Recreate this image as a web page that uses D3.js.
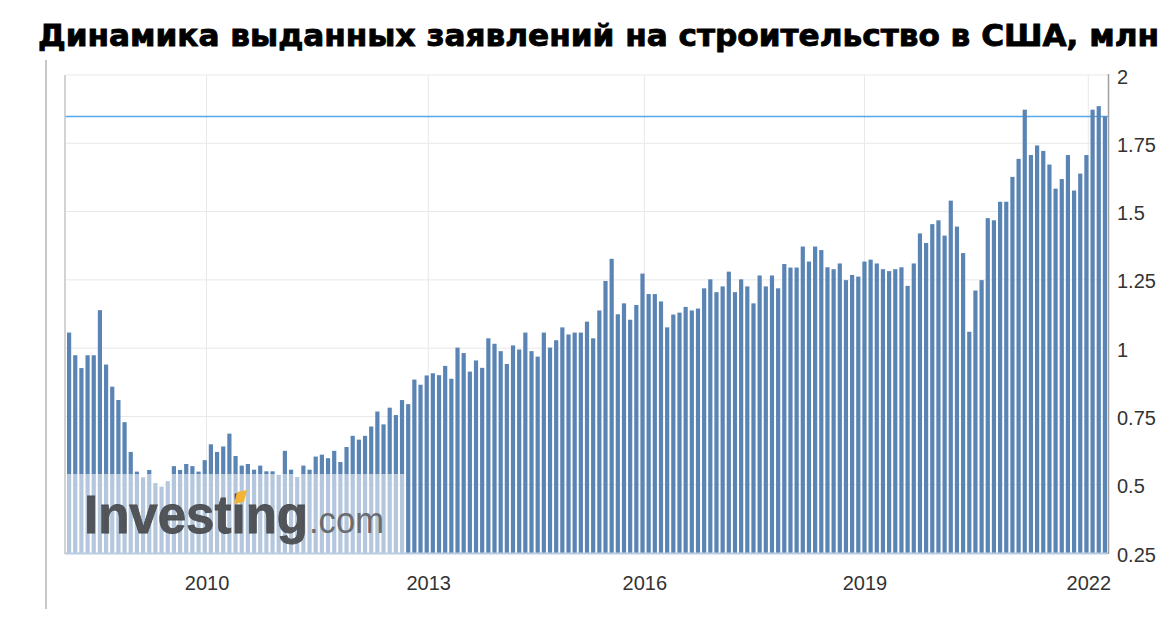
<!DOCTYPE html>
<html>
<head>
<meta charset="utf-8">
<script src="https://cdn.jsdelivr.net/npm/d3@7/dist/d3.min.js"></script>
<style>
  html, body { margin: 0; padding: 0; background: #ffffff; }
  svg { display: block; }
</style>
</head>
<body>
<svg id="chart" width="1176" height="618"></svg>
<script>
// ---- Data ----
const titleText = "Динамика выданных заявлений на строительство в США, млн";

// Monthly building permits, millions (bars left to right)
const permits = [
  1.057, 0.974, 0.927, 0.974, 0.974, 1.139, 0.940, 0.859, 0.810, 0.729,
  0.620, 0.548, 0.527, 0.554, 0.506, 0.493, 0.513, 0.568, 0.554, 0.576,
  0.568, 0.548, 0.590, 0.648, 0.620, 0.640, 0.687, 0.605, 0.570, 0.576,
  0.555, 0.570, 0.549, 0.549, 0.536, 0.624, 0.555, 0.528, 0.570, 0.555,
  0.603, 0.610, 0.597, 0.624, 0.583, 0.638, 0.679, 0.665, 0.679, 0.713,
  0.768, 0.721, 0.782, 0.755, 0.810, 0.795, 0.885, 0.866, 0.900, 0.908,
  0.901, 0.935, 0.888, 1.002, 0.982, 0.914, 0.955, 0.928, 1.036, 1.016,
  0.989, 0.942, 1.010, 0.995, 1.057, 0.989, 0.969, 1.057, 1.002, 1.029,
  1.076, 1.050, 1.057, 1.057, 1.097, 1.036, 1.138, 1.246, 1.327, 1.124,
  1.164, 1.104, 1.158, 1.273, 1.198, 1.198, 1.171, 1.076, 1.123, 1.130,
  1.151, 1.138, 1.145, 1.219, 1.252, 1.205, 1.226, 1.280, 1.205, 1.252,
  1.226, 1.164, 1.266, 1.226, 1.266, 1.219, 1.308, 1.295, 1.295, 1.372,
  1.317, 1.372, 1.359, 1.296, 1.289, 1.310, 1.249, 1.268, 1.262, 1.317,
  1.324, 1.310, 1.289, 1.282, 1.289, 1.296, 1.228, 1.310, 1.420, 1.385,
  1.454, 1.468, 1.412, 1.540, 1.445, 1.348, 1.060, 1.211, 1.249, 1.476,
  1.468, 1.536, 1.536, 1.627, 1.693, 1.873, 1.707, 1.742, 1.722, 1.672,
  1.584, 1.619, 1.707, 1.577, 1.639, 1.707, 1.873, 1.886, 1.848
];
const barIndex = permits.map((_, i) => i);

// Year ticks, positioned in bar-index units (where the year boundary falls among the bars)
const yearTickPos = [22.3, 58.25, 93.3, 129.0, 165.3];
const yearLabels = ["2010", "2013", "2016", "2019", "2022"];

const yTicks = [0.25, 0.5, 0.75, 1, 1.25, 1.5, 1.75, 2];
const yTickLabels = ["0.25", "0.5", "0.75", "1", "1.25", "1.5", "1.75", "2"];

// ---- Layout ----
const svg = d3.select("#chart");
const plot = { left: 66, right: 1108, top: 75, bottom: 553 };

const x = d3.scaleLinear()
  .domain([-0.5, permits.length - 0.5])
  .range([plot.left, plot.right]);
const step = x(1) - x(0);
const barW = step * 0.68;

const y = d3.scaleLinear()
  .domain([0.25, 2])
  .range([plot.bottom, plot.top]);

// Title
svg.append("text")
  .attr("x", 38).attr("y", 46)
  .attr("font-family", "DejaVu Sans, sans-serif")
  .attr("font-weight", "bold")
  .attr("font-size", 31)
  .attr("textLength", 1121)
  .attr("lengthAdjust", "spacingAndGlyphs")
  .attr("fill", "#000")
  .attr("stroke", "#000").attr("stroke-width", 0.9)
  .text(titleText);

// Outer left frame line
svg.append("line")
  .attr("x1", 46).attr("x2", 46).attr("y1", 60).attr("y2", 609)
  .attr("stroke", "#b5b5b5").attr("stroke-width", 1.5);

// Horizontal gridlines
svg.append("g").selectAll("line").data(yTicks).join("line")
  .attr("x1", plot.left).attr("x2", plot.right)
  .attr("y1", d => y(d)).attr("y2", d => y(d))
  .attr("stroke", "#e8e8e8").attr("stroke-width", 1);

// Vertical gridlines
svg.append("g").selectAll("line").data(yearTickPos).join("line")
  .attr("x1", d => x(d)).attr("x2", d => x(d))
  .attr("y1", plot.top).attr("y2", plot.bottom)
  .attr("stroke", "#e8e8e8").attr("stroke-width", 1);

// Latest value line
const lastVal = permits[permits.length - 1];
svg.append("line")
  .attr("x1", plot.left - 1).attr("x2", plot.right)
  .attr("y1", y(lastVal)).attr("y2", y(lastVal))
  .attr("stroke", "#55a8ea").attr("stroke-width", 1.5);

// Bars
svg.append("g").selectAll("rect").data(barIndex).join("rect")
  .attr("x", i => x(i) - barW / 2)
  .attr("width", barW)
  .attr("y", i => y(permits[i]))
  .attr("height", i => y(0.25) - y(permits[i]))
  .attr("fill", "#5a84b4");

// Watermark overlay
const wm = svg.append("g");
wm.append("rect")
  .attr("x", plot.left - 1).attr("y", 474)
  .attr("width", 405 - plot.left + 1).attr("height", plot.bottom - 474)
  .attr("fill", "#ffffff").attr("fill-opacity", 0.55);
wm.append("text")
  .attr("x", 84).attr("y", 533)
  .attr("font-family", "Liberation Sans, Arial, sans-serif")
  .attr("font-weight", "bold").attr("font-size", 53)
  .attr("textLength", 224).attr("lengthAdjust", "spacingAndGlyphs")
  .attr("fill", "#4b4d50").attr("fill-opacity", 0.95)
  .attr("stroke", "#4b4d50").attr("stroke-width", 0.8)
  .text("Investing");
wm.append("text")
  .attr("x", 309).attr("y", 533)
  .attr("font-family", "Liberation Sans, Arial, sans-serif")
  .attr("font-size", 36)
  .attr("textLength", 75).attr("lengthAdjust", "spacingAndGlyphs")
  .attr("fill", "#6a6c70")
  .text(".com");
wm.append("path")
  .attr("d", "M237,492 L247,490 L244,502 L234,504 Z")
  .attr("fill", "#f5b335");

// Bottom baseline
svg.append("line")
  .attr("x1", plot.left - 1).attr("x2", plot.right)
  .attr("y1", plot.bottom + 0.5).attr("y2", plot.bottom + 0.5)
  .attr("stroke", "#b9cde2").attr("stroke-width", 2);

// Left and right plot borders
svg.append("line")
  .attr("x1", plot.left - 1).attr("x2", plot.left - 1)
  .attr("y1", plot.top).attr("y2", plot.bottom + 1)
  .attr("stroke", "#c4c4c4").attr("stroke-width", 1.5);
svg.append("line")
  .attr("x1", plot.right + 0.5).attr("x2", plot.right + 0.5)
  .attr("y1", plot.top - 1).attr("y2", plot.bottom + 1)
  .attr("stroke", "#a0a0a0").attr("stroke-width", 1.5);

// Y axis (right)
const yAxis = d3.axisRight(y)
  .tickValues(yTicks)
  .tickFormat((d, i) => yTickLabels[i])
  .tickSize(0).tickPadding(0);
const gy = svg.append("g")
  .attr("transform", `translate(${plot.right + 9},0)`)
  .call(yAxis);
gy.select(".domain").remove();
gy.selectAll("text")
  .attr("font-family", "Liberation Sans, Arial, sans-serif")
  .attr("font-size", 20).attr("fill", "#333")
  .attr("dy", "0.4em");

// X axis (bottom)
const xAxis = d3.axisBottom(x)
  .tickValues(yearTickPos)
  .tickFormat((d, i) => yearLabels[i])
  .tickSize(0).tickPadding(0);
const gx = svg.append("g")
  .attr("transform", `translate(0,${plot.bottom})`)
  .call(xAxis);
gx.select(".domain").remove();
gx.selectAll("text")
  .attr("font-family", "Liberation Sans, Arial, sans-serif")
  .attr("font-size", 20).attr("fill", "#333")
  .attr("dy", null).attr("y", 37);
</script>
</body>
</html>
